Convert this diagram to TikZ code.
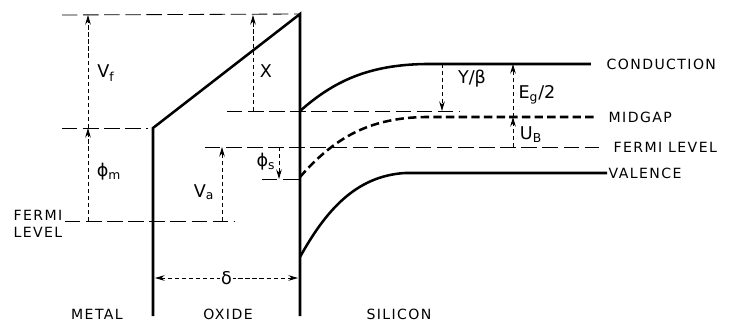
\documentclass[tikz,border=0pt]{standalone}
\usepackage{fontspec}
\setmainfont{DejaVu Sans}
\newfontfamily\capsfont[LetterSpace=10]{DejaVu Sans}
\usetikzlibrary{arrows.meta, calc}
\tikzset{
	band/.style    ={line width=1.8pt},
	midband/.style ={line width=1.8pt, dash pattern=on 6pt off 3pt},
	reflevel/.style={line width=0.6pt, dash pattern=on 11pt off 4pt},
	dimarrow/.style={line width=0.6pt, dash pattern=on 3pt off 2pt, -{Stealth[length=2.4mm, width=1.4mm]}},
	lbl/.style     ={font=\fontsize{12.5}{14}\selectfont, inner sep=1pt},
	caps/.style    ={font=\capsfont\fontsize{10}{12}\selectfont, inner sep=1pt, align=center},
}
\begin{document}
\begin{tikzpicture}[x=0.025cm, y=-0.025cm]
	\useasboundingbox (0,0) rectangle (732,322);
	% interfaces
	\coordinate (mtop) at (153,128);
	\coordinate (mbot) at (153,316);
	\coordinate (apex) at (300,14);
	\coordinate (sbot) at (300,316);
	\draw[band] (mbot) -- (mtop) -- (apex) -- (sbot);
	% right hand labels
	\node[caps, anchor=west] (cond) at (605,64) {CONDUCTION};
	\node[caps, anchor=west] (mid) at (607,117) {MIDGAP};
	\node[caps, anchor=west] (sfermi) at (612,147) {FERMI LEVEL};
	\node[caps, anchor=west] (val) at (607,173) {VALENCE};
	% silicon bands
	\draw[band] (300,111) .. controls (335,80) and (370,65) .. (425,64) -- ([xshift=-10pt]cond.west);
	\draw[midband] (300,177) .. controls (335,137) and (370,118) .. (425,117) -- ([xshift=-8pt]mid.west);
	\draw[band] (300,257) .. controls (325,212) and (355,176) .. (405,173) -- (val.west);
	% reference levels
	\draw[reflevel] (62,15) -- (apex);
	\draw[reflevel] (62,128) -- (148,128);
	\draw[reflevel] (65,221) -- (235,221);
	\draw[reflevel] (227,111) -- (460,111);
	\draw[reflevel] (205,147) -- ([xshift=-9pt]sfermi.west);
	\draw[reflevel] (262,179) -- (300,179);
	% dimensions
	\draw[dimarrow] (88,128) -- (88,15);
	\draw[dimarrow] (88,221) -- (88,128);
	\draw[dimarrow] (253,111) -- (253,15);
	\draw[dimarrow] (222,221) -- (222,147);
	\draw[dimarrow] (279,147) -- (279,179);
	\draw[dimarrow] (442,64) -- (442,111);
	\draw[dimarrow] (513,117) -- (513,64);
	\draw[dimarrow] (513,147) -- (513,117);
	\draw[dimarrow, {Stealth[length=2.4mm, width=1.4mm]}-{Stealth[length=2.4mm, width=1.4mm]}] (155,278) -- (298,278)
		node[midway, fill=white, lbl] (delta) {δ};
	% labels
	\node[lbl] (vf) at (106,73) {V\textsubscript{f}};
	\node[lbl] (phim) at (109,172) {ϕ\textsubscript{m}};
	\node[lbl] (chi) at (266,71) {X};
	\node[lbl] (va) at (204,192) {V\textsubscript{a}};
	\node[lbl] (phis) at (266,162) {ϕ\textsubscript{s}};
	\node[lbl] (ybeta) at (472,79) {Y/β};
	\node[lbl] (eg) at (537,95) {E\textsubscript{g}/2};
	\node[lbl] (ub) at (531,135) {U\textsubscript{B}};
	\node[caps] (mfermi) at (38,224) {FERMI\\LEVEL};
	\node[caps] (metal) at (97,314) {METAL};
	\node[caps] (oxide) at (228,314) {OXIDE};
	\node[caps] (silicon) at (399,314) {SILICON};
\end{tikzpicture}
\end{document}
